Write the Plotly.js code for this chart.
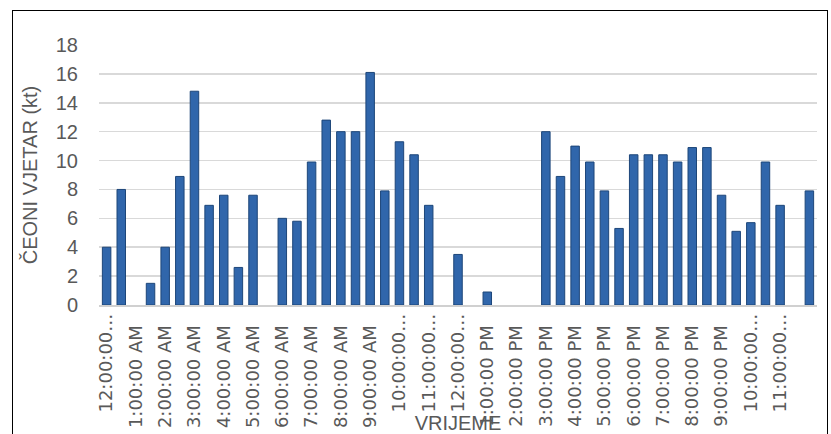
<!DOCTYPE html>
<html>
<head>
<meta charset="utf-8">
<script src="https://cdn.plot.ly/plotly-3.0.1.min.js"></script>
<style>
  html, body { margin: 0; padding: 0; background: #fff; }
  #wrap { position: relative; width: 831px; height: 434px; overflow: hidden; }
  #chart { width: 831px; height: 434px; }
  #frame { position: absolute; left: 12px; top: 10px; width: 816px; height: 440px;
           border-left: 1.5px solid #000; border-top: 1.5px solid #000; border-right: 1.5px solid #000;
           pointer-events: none; box-sizing: border-box; }
</style>
</head>
<body>
<div id="wrap">
  <div id="chart"></div>
  <div id="frame"></div>
</div>
<script>
// Half-hour time slots (49 slots, last one is the next midnight)
const times = [
  "12:00:00 AM","12:30:00 AM","1:00:00 AM","1:30:00 AM","2:00:00 AM","2:30:00 AM",
  "3:00:00 AM","3:30:00 AM","4:00:00 AM","4:30:00 AM","5:00:00 AM","5:30:00 AM",
  "6:00:00 AM","6:30:00 AM","7:00:00 AM","7:30:00 AM","8:00:00 AM","8:30:00 AM",
  "9:00:00 AM","9:30:00 AM","10:00:00 AM","10:30:00 AM","11:00:00 AM","11:30:00 AM",
  "12:00:00 PM","12:30:00 PM","1:00:00 PM","1:30:00 PM","2:00:00 PM","2:30:00 PM",
  "3:00:00 PM","3:30:00 PM","4:00:00 PM","4:30:00 PM","5:00:00 PM","5:30:00 PM",
  "6:00:00 PM","6:30:00 PM","7:00:00 PM","7:30:00 PM","8:00:00 PM","8:30:00 PM",
  "9:00:00 PM","9:30:00 PM","10:00:00 PM","10:30:00 PM","11:00:00 PM","11:30:00 PM",
  "12:00:00 AM "
];

// Headwind (kt) per slot; null = no bar
const headwind = [
  4.0, 8.0, null, 1.5, 4.0, 8.9,
  14.8, 6.9, 7.6, 2.6, 7.6, null,
  6.0, 5.8, 9.9, 12.8, 12.0, 12.0,
  16.1, 7.9, 11.3, 10.4, 6.9, null,
  3.5, null, 0.9, null, null, null,
  12.0, 8.9, 11.0, 9.9, 7.9, 5.3,
  10.4, 10.4, 10.4, 9.9, 10.9, 10.9,
  7.6, 5.1, 5.7, 9.9, 6.9, null,
  7.9
];

// Hourly tick labels as shown (long ones truncated)
const tickLabels = [
  "12:00:00…","1:00:00 AM","2:00:00 AM","3:00:00 AM","4:00:00 AM","5:00:00 AM",
  "6:00:00 AM","7:00:00 AM","8:00:00 AM","9:00:00 AM","10:00:00…","11:00:00…",
  "12:00:00…","1:00:00 PM","2:00:00 PM","3:00:00 PM","4:00:00 PM","5:00:00 PM",
  "6:00:00 PM","7:00:00 PM","8:00:00 PM","9:00:00 PM","10:00:00…","11:00:00…"
];

const yTicks = [0, 2, 4, 6, 8, 10, 12, 14, 16, 18];

const xIdx = times.map((t, i) => i);
const tickVals = tickLabels.map((t, i) => i * 2);
const tickText = tickLabels.map(t => t.endsWith("…") ? t : t + "\u00a0\u00a0");

const grey = "#595959";

const trace = {
  type: "bar",
  x: xIdx,
  y: headwind,
  customdata: times,
  textposition: "none",
  hovertemplate: "%{customdata}: %{y} kt<extra></extra>",
  marker: { color: "#3066ab", line: { color: "#1d4679", width: 1 } }
};

const layout = {
  width: 831, height: 434,
  margin: { l: 99, r: 14, t: 45, b: 129, pad: 0 },
  paper_bgcolor: "#fff", plot_bgcolor: "#fff",
  font: { family: "Liberation Sans, Arial, sans-serif", color: grey, size: 20 },
  bargap: 0.42,
  showlegend: false,
  xaxis: {
    range: [-0.52, 48.52],
    tickmode: "array",
    tickvals: tickVals,
    ticktext: tickText,
    tickangle: -90,
    tickfont: { family: "DejaVu Sans, sans-serif", size: 18, color: grey },
    ticks: "",
    showgrid: false,
    zeroline: false,
    showline: true,
    linecolor: "#d0d0d0",
    linewidth: 1.5,
    fixedrange: true,
    title: { text: "VRIJEME", font: { size: 20, color: grey }, standoff: 0 }
  },
  yaxis: {
    range: [0, 18],
    tickmode: "array",
    tickvals: yTicks,
    ticktext: yTicks.map(String),
    tickfont: { size: 20, color: grey },
    ticks: "",
    ticklabelstandoff: 20,
    showgrid: true,
    gridcolor: "#d9d9d9",
    gridwidth: 1.5,
    zeroline: false,
    showline: false,
    fixedrange: true,
    title: { text: "ČEONI VJETAR (kt)", font: { size: 20, color: grey }, standoff: 12 }
  }
};

Plotly.newPlot("chart", [trace], layout, { displayModeBar: false, staticPlot: true });
</script>
</body>
</html>
